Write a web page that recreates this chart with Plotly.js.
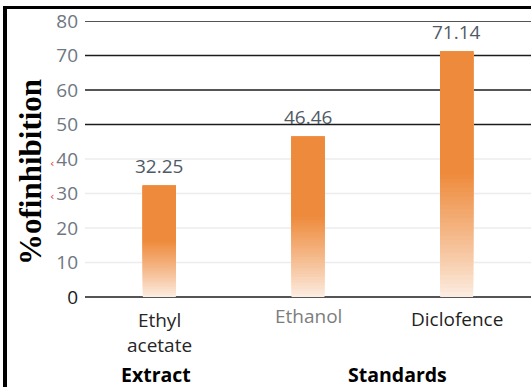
<!DOCTYPE html>
<html>
<head>
<meta charset="utf-8">
<script src="https://cdn.plot.ly/plotly-3.0.1.min.js"></script>
<style>
  html, body { margin: 0; padding: 0; background: #fff; }
  #wrap { position: relative; width: 531px; height: 387px; overflow: hidden; }
  #chart { position: absolute; left: 0; top: 0; width: 531px; height: 387px; }
  /* frame: heavy rule on the left and along the top */
  #frame { position: absolute; left: 3px; top: 6px; right: -10px; bottom: -10px;
           border-left: 4px solid #000; border-top: 3.5px solid #000; pointer-events: none; }
</style>
</head>
<body>
<div id="wrap">
  <div id="chart"></div>
  <div id="frame"></div>
</div>
<script>
// Percentage inhibition per sample
const categories = ['Ethyl acetate', 'Ethanol', 'Diclofence'];
const categoryLabels = ['Ethyl<br>acetate', 'Ethanol', 'Diclofence'];
const categoryColors = ['#262626', '#7d7d7d', '#1f1f1f'];
const inhibition = [32.25, 46.46, 71.14];
const groupNames = ['Extract', 'Standards'];
const yTickVals = [0, 10, 20, 30, 40, 50, 60, 70, 80];
const lightGridVals = [10, 20, 30, 40];
const darkGridVals = [50, 60, 70, 80];

// Bars fade from solid orange (upper half) to a pale tint at the base.
// Each layer covers the bar from a rising base up to its top, so the
// stack of opaque layers reads as a smooth vertical gradient.
const solid = [238, 138, 59];
const pale = [252, 236, 224];
const steps = 28;
const traces = [];
for (let i = 0; i <= steps; i++) {
  const t = i / steps;            // 0 at the base, 1 at mid-height
  const frac = 0.5 * t;           // fraction of bar height where this layer starts
  const c = pale.map((p, k) => Math.round(p + (solid[k] - p) * Math.pow(t, 0.9)));
  traces.push({
    type: 'bar',
    x: categories,
    base: inhibition.map(v => v * frac),
    y: inhibition.map(v => v * (1 - frac)),
    marker: { color: `rgb(${c[0]},${c[1]},${c[2]})`, line: { width: 0 } },
    hoverinfo: 'skip',
    showlegend: false
  });
}

const plotTop = 21, plotBottom = 297, plotLeft = 85, plotWidth = 446;
const py = p => (plotBottom - p) / (plotBottom - plotTop);   // pixel row -> paper y
const px = p => (p - plotLeft) / plotWidth;                  // pixel col -> paper x

// horizontal rules: faint in the lower half, dark in the upper half
const rule = (v, color) => ({
  type: 'line', layer: 'below', xref: 'paper', x0: 0, x1: 1, yref: 'y', y0: v, y1: v,
  line: { color: color, width: 1.3 }
});
const shapes = lightGridVals.map(v => rule(v, '#ececec'))
  .concat(darkGridVals.map(v => rule(v, '#1c1c1c')));

const annotations = [];
// value labels above each bar
categories.forEach((c, i) => {
  annotations.push({ x: c, y: inhibition[i], xref: 'x', yref: 'y',
    text: inhibition[i].toFixed(2), showarrow: false, yanchor: 'middle', yshift: 20,
    font: { family: 'Open Sans', size: 19, color: '#505a66' } });
});
// category labels
const labelRows = [332, 316, 319];
categories.forEach((c, i) => {
  annotations.push({ x: c, xref: 'x', y: py(labelRows[i]), yref: 'paper',
    text: categoryLabels[i], showarrow: false, yanchor: 'middle',
    font: { family: 'Open Sans', size: 19, color: categoryColors[i] } });
});
// group labels
const groupCols = [156, 397];
groupNames.forEach((g, i) => {
  annotations.push({ x: px(groupCols[i]), xref: 'paper', y: py(374), yref: 'paper',
    text: '<b>' + g + '</b>', showarrow: false, yanchor: 'middle', xanchor: 'center',
    borderpad: 0, font: { family: 'Open Sans', size: 19.5, color: '#000' } });
});
// axis title
annotations.push({ x: px(30), xref: 'paper', y: py(172), yref: 'paper',
  text: '<b>%ofinhibition</b>', textangle: -90, showarrow: false,
  xanchor: 'center', yanchor: 'middle',
  font: { family: 'Liberation Serif', size: 31, color: '#000' } });
// small red marks beside the axis labels
[163, 197].forEach(r => {
  annotations.push({ x: px(52), xref: 'paper', y: py(r), yref: 'paper',
    text: '‹', showarrow: false, xanchor: 'center', yanchor: 'middle',
    font: { family: 'DejaVu Sans', size: 11, color: '#e0303a' } });
});

const yTickText = yTickVals.map(v => v === 0 ? '<span style="color:#1a1a1a">0</span>' : String(v));

const layout = {
  width: 531, height: 387,
  margin: { l: plotLeft, r: 0, t: plotTop, b: 387 - plotBottom, pad: 0 },
  paper_bgcolor: '#fff', plot_bgcolor: 'rgba(0,0,0,0)',
  barmode: 'overlay', bargap: 0.778,
  showlegend: false,
  xaxis: { type: 'category', range: [-0.5, 2.5], showticklabels: false,
    showgrid: false, zeroline: false, showline: false, ticks: '' },
  yaxis: { range: [0, 80], tickvals: yTickVals, ticktext: yTickText,
    ticks: '', ticklabelstandoff: 6,
    tickfont: { family: 'Open Sans', size: 19, color: '#6f7781' },
    showgrid: false,
    zeroline: true, zerolinecolor: '#555', zerolinewidth: 1.6,
    showline: false },
  shapes: shapes,
  annotations: annotations
};

Plotly.newPlot('chart', traces, layout, { staticPlot: true, displayModeBar: false });
</script>
</body>
</html>
